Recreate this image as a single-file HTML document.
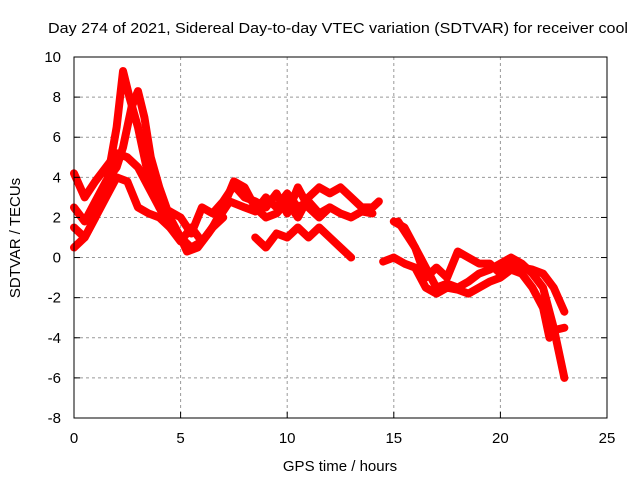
<!DOCTYPE html>
<html><head><meta charset="utf-8"><style>
body{margin:0;background:#fff}
svg{display:block;font-family:"Liberation Sans",sans-serif}
</style></head><body>
<svg id="c" width="640" height="480" viewBox="0 0 640 480">
<rect width="640" height="480" fill="#fff"/>
<g id="grid"></g>
<g id="series"></g>
<rect x="74" y="57" width="533" height="361" fill="none" stroke="#000" stroke-width="1"/>
<g id="ticks"></g>
<text x="48" y="33" font-size="15" textLength="580" lengthAdjust="spacingAndGlyphs">Day 274 of 2021, Sidereal Day-to-day VTEC variation (SDTVAR) for receiver cool</text>
<text x="340" y="471" font-size="15" text-anchor="middle">GPS time / hours</text>
<text x="20" y="238" font-size="15" text-anchor="middle" transform="rotate(-90 20 238)">SDTVAR / TECUs</text>
</svg>
<script>
const xTicks=[0,5,10,15,20,25];
const yTicks=[-8,-6,-4,-2,0,2,4,6,8,10];
const tA_x=[0,0.5,1,1.5,2,2.3,2.6,3,3.5,4,4.5,5,5.5,6,6.5,7,7.5,8,8.5,9,9.5,10,10.5,11,11.5,12,12.5,13,13.5,14,14.3];
const tA_y=[0.5,1,2,3.5,6.5,9.3,8,6.5,4,2.5,1.5,1,0.5,0.8,1.5,2.5,3.8,3.5,2.5,2,2.2,2.8,2,3,3.5,3.2,3.5,3,2.5,2.5,2.8];
const tB_x=[0,0.5,1,1.5,2,2.3,2.7,3,3.3,3.6,4,4.5,5,5.3,5.8,6.3,6.8,7.3,8,8.5,9,9.5,10,10.5,11,11.5,12];
const tB_y=[2.5,1.8,2.8,3.8,4.5,5.5,7.5,8.3,7,5,3.5,2,1,0.3,0.5,1.2,2,2.8,2.5,2.3,3,2.5,3.2,2.5,2.8,2.2,2.5];
const tC_x=[0,0.5,1,1.5,2,2.5,3,3.5,4,4.5,5,5.5,6,6.5,7,7.5,8,8.5,9,9.5,10,10.5,11,11.5,12,12.5,13,13.5,14];
const tC_y=[4.2,3,3.8,4.5,5.2,5,4.5,3.5,2.5,2.3,2,1.2,2.5,2.2,2.8,3.6,3,2.8,2.5,3.2,2.2,3.5,2.5,2,2.5,2.2,2,2.3,2.2];
const tD_x=[0,0.5,1,1.5,2,2.5,3,3.5,4,4.5,5,5.5,6,6.5,7];
const tD_y=[1.5,1,2,3,4,3.8,2.5,2.2,2,1.5,0.8,1.5,0.8,1.5,2];
const tE_x=[8.5,9,9.5,10,10.5,11,11.5,12,12.5,13];
const tE_y=[1,0.5,1.2,1,1.5,1,1.5,1,0.5,0];
const tF_x=[15.2,16,16.5,17,17.5,18,18.5,19,19.5,20,20.5,21,21.5,22,22.5,23];
const tF_y=[1.8,0.5,-0.5,-1.5,-1.3,-1.5,-1.2,-0.8,-0.6,-0.3,0,-0.3,-0.8,-1.5,-3.5,-6];
const tG_x=[15,15.5,16,16.5,17,17.5,18,18.5,19,19.5,20,20.5,21,21.5,22,22.5,23];
const tG_y=[1.8,1.5,0.5,-1,-0.5,-1,0.3,0,-0.3,-0.3,-0.8,-0.2,-0.5,-0.6,-0.8,-1.5,-2.7];
const tH_x=[14.5,15,15.5,16,16.5,17,17.5,18,18.5,19,19.5,20,20.5,21,21.5,22,22.3,22.6,23];
const tH_y=[-0.2,0,-0.3,-0.5,-1.5,-1.8,-1.5,-1.6,-1.8,-1.5,-1.2,-1,-0.6,-0.8,-1.5,-2.5,-4,-3.6,-3.5];
const series=[[tA_x,tA_y],[tB_x,tB_y],[tC_x,tC_y],[tD_x,tD_y],[tE_x,tE_y],[tF_x,tF_y],[tG_x,tG_y],[tH_x,tH_y]];
const X=v=>74+v*533/25, Y=v=>418-(v+8)*361/18;
const NS='http://www.w3.org/2000/svg';
const g=document.getElementById('grid'),t=document.getElementById('ticks'),s=document.getElementById('series');
function mk(tag,attrs,parent){const e=document.createElementNS(NS,tag);for(const k in attrs)e.setAttribute(k,attrs[k]);parent.appendChild(e);return e;}
xTicks.forEach(v=>{
 if(v>0&&v<25){const l=mk('line',{x1:X(v),x2:X(v),y1:57,y2:418,stroke:'#999','stroke-dasharray':'3,3'},g);
 
 }
 const tk=mk('text',{x:X(v),y:443,'font-size':15,'text-anchor':'middle'},t);tk.textContent=v;
 
 
 mk('line',{x1:X(v),x2:X(v),y1:418,y2:412,stroke:'#000'},t);
});
yTicks.forEach(v=>{
 if(v>-8&&v<10){const l=mk('line',{x1:74,x2:607,y1:Y(v),y2:Y(v),stroke:'#999','stroke-dasharray':'3,3'},g);
 
 }
 const tk=mk('text',{x:61,y:Y(v)+5,'font-size':15,'text-anchor':'end'},t);tk.textContent=v;
 
 
 mk('line',{x1:74,x2:80,y1:Y(v),y2:Y(v),stroke:'#000'},t);
 mk('line',{x1:607,x2:601,y1:Y(v),y2:Y(v),stroke:'#000'},t);
});
series.forEach((sr,i)=>{
 const pts=sr[0].map((x,j)=>X(x)+','+Y(sr[1][j])).join(' ');
 const p=mk('polyline',{points:pts,fill:'none',stroke:'#f00','stroke-width':8,'stroke-linejoin':'round','stroke-linecap':'round'},s);
 
 
});
</script>
</body></html>
